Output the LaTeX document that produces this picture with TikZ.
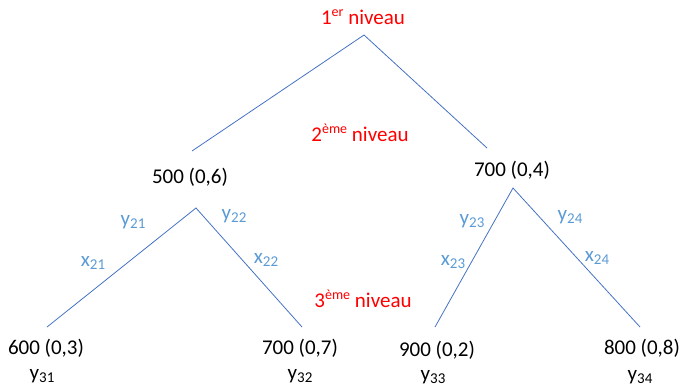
\documentclass[tikz,border=0pt]{standalone}
\usepackage{fontspec}
\setmainfont{Carlito}
\definecolor{lineblue}{HTML}{4472C4}
\definecolor{lblblue}{HTML}{5B9BD5}
\definecolor{lvlred}{HTML}{FF0000}
\newcommand{\mysub}[1]{\raisebox{-0.32ex}{\fontsize{15}{15}\selectfont #1}}
\newcommand{\mysup}[1]{\raisebox{0.85ex}{\fontsize{14}{14}\selectfont #1}}
\begin{document}
\begin{tikzpicture}[x=1pt,y=-1pt,
  txt/.style={font=\fontsize{21}{24}\selectfont, inner sep=0pt},
  lvl/.style={txt, text=lvlred},
  lbl/.style={txt, text=lblblue},
  branch/.style={draw=lineblue, line width=0.8pt}]
\useasboundingbox (0,0) rectangle (684,386);
% level labels
\node[lvl] (l1) at (363,17) {1\mysup{er} niveau};
\node[lvl] (l2) at (360,133) {2\mysup{ème} niveau};
\node[lvl] (l3) at (363,299) {3\mysup{ème} niveau};
% top branches
\coordinate (top) at (364,35);
\coordinate (tl) at (192,151);
\coordinate (tr) at (487,148);
\draw[branch] (tl) -- (top) -- (tr);
\node[txt] (n500) at (190,177) {500 (0,6)};
\node[txt] (n700a) at (512,170) {700 (0,4)};
% left subtree
\coordinate (la) at (196,208);
\coordinate (ll) at (47,327);
\coordinate (lr) at (302,327);
\draw[branch] (ll) -- (la) -- (lr);
\node[lbl] (y21) at (133,222) {y\mysub{21}};
\node[lbl] (y22) at (234,216) {y\mysub{22}};
\node[lbl] (x21) at (93,263) {x\mysub{21}};
\node[lbl] (x22) at (266,260) {x\mysub{22}};
% right subtree
\coordinate (ra) at (513,188);
\coordinate (rl) at (435,327);
\coordinate (rr) at (640,327);
\draw[branch] (rl) -- (ra) -- (rr);
\node[lbl] (y23) at (472,221) {y\mysub{23}};
\node[lbl] (y24) at (570,217) {y\mysub{24}};
\node[lbl] (x23) at (453,262) {x\mysub{23}};
\node[lbl] (x24) at (597,258) {x\mysub{24}};
% leaves
\node[txt] (n600) at (46,348) {600 (0,3)};
\node[txt] (n700b) at (300,348) {700 (0,7)};
\node[txt] (n900) at (437,350) {900 (0,2)};
\node[txt] (n800) at (642,348) {800 (0,8)};
\node[txt] (y31) at (42,376) {y\mysub{31}};
\node[txt] (y32) at (300,376) {y\mysub{32}};
\node[txt] (y33) at (433,377) {y\mysub{33}};
\node[txt] (y34) at (640,377) {y\mysub{34}};
\end{tikzpicture}
\end{document}
